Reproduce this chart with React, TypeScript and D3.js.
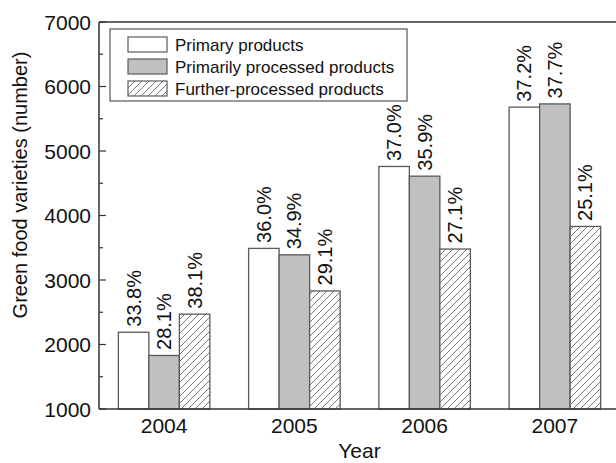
import React, { useEffect, useRef } from 'react';
import * as d3 from 'd3';

const years = ['2004', '2005', '2006', '2007'];
const seriesNames = ['Primary products', 'Primarily processed products', 'Further-processed products'];
const primaryValues = [2190, 3490, 4760, 5680];
const processedValues = [1830, 3390, 4610, 5730];
const furtherValues = [2470, 2830, 3480, 3830];
const primaryLabels = ['33.8%', '36.0%', '37.0%', '37.2%'];
const processedLabels = ['28.1%', '34.9%', '35.9%', '37.7%'];
const furtherLabels = ['38.1%', '29.1%', '27.1%', '25.1%'];
const yTicks = [1000, 2000, 3000, 4000, 5000, 6000, 7000];

const width = 616;
const height = 463;

const App: React.FC = () => {
  const svgRef = useRef<SVGSVGElement>(null);

  useEffect(() => {
    if (!svgRef.current) return;
    const svg = d3.select(svgRef.current);
    svg.selectAll('*').remove();

    const font = 'Liberation Sans, Arial, Helvetica, sans-serif';
    const margin = { top: 22, right: -4, bottom: 54, left: 99 };
    const innerW = width - margin.left - margin.right;
    const innerH = height - margin.top - margin.bottom;

    // hatch pattern for further-processed bars
    const defs = svg.append('defs');
    const pat = defs.append('pattern')
      .attr('id', 'hatch')
      .attr('patternUnits', 'userSpaceOnUse')
      .attr('width', 7)
      .attr('height', 7);
    pat.append('rect').attr('width', 7).attr('height', 7).attr('fill', '#fff');
    pat.append('path')
      .attr('d', 'M-1,1 l2,-2 M0,7 l7,-7 M6,8 l2,-2')
      .attr('stroke', '#6a6a6a')
      .attr('stroke-width', 0.9);

    const g = svg.append('g').attr('transform', `translate(${margin.left},${margin.top})`);

    const x0 = d3.scaleBand<string>().domain(years).range([0, innerW]);
    const x1 = d3.scaleBand<string>().domain(seriesNames).range([0, x0.bandwidth()]).paddingOuter(0.635);
    const y = d3.scaleLinear().domain([1000, 7000]).range([innerH, 0]);

    const series = [
      { name: seriesNames[0], values: primaryValues, labels: primaryLabels, fill: '#ffffff' },
      { name: seriesNames[1], values: processedValues, labels: processedLabels, fill: '#c0c0c0' },
      { name: seriesNames[2], values: furtherValues, labels: furtherLabels, fill: 'url(#hatch)' },
    ];

    // bars
    series.forEach(s => {
      years.forEach((yr, i) => {
        const bx = x0(yr)! + x1(s.name)!;
        g.append('rect')
          .attr('x', bx)
          .attr('y', y(s.values[i]))
          .attr('width', x1.bandwidth())
          .attr('height', innerH - y(s.values[i]))
          .attr('fill', s.fill)
          .attr('stroke', '#5a5a5a')
          .attr('stroke-width', 1.3);
        const lx = bx + x1.bandwidth() / 2;
        const ly = y(s.values[i]) - 5.5;
        g.append('text')
          .attr('transform', `translate(${lx + 7},${ly}) rotate(-90)`)
          .attr('font-family', font)
          .attr('font-size', 20)
          .attr('fill', '#111')
          .text(s.labels[i]);
      });
    });

    // frame
    g.append('line').attr('x1', 0).attr('x2', 0).attr('y1', 0).attr('y2', innerH)
      .attr('stroke', '#333').attr('stroke-width', 1.5);
    g.append('line').attr('x1', 0).attr('x2', innerW).attr('y1', innerH).attr('y2', innerH)
      .attr('stroke', '#333').attr('stroke-width', 1.5);
    g.append('line').attr('x1', 0).attr('x2', innerW).attr('y1', 0).attr('y2', 0)
      .attr('stroke', '#333').attr('stroke-width', 1.5);

    // y ticks (inside)
    d3.range(1500, 7000, 1000).forEach(v => {
      g.append('line').attr('x1', 0).attr('x2', 4).attr('y1', y(v)).attr('y2', y(v))
        .attr('stroke', '#333').attr('stroke-width', 1.2);
    });
    yTicks.forEach(v => {
      g.append('line').attr('x1', 0).attr('x2', 7).attr('y1', y(v)).attr('y2', y(v))
        .attr('stroke', '#333').attr('stroke-width', 1.2);
      g.append('text')
        .attr('x', -8)
        .attr('y', y(v))
        .attr('dy', '0.36em')
        .attr('text-anchor', 'end')
        .attr('font-family', font)
        .attr('font-size', 21)
        .attr('fill', '#111')
        .text(String(v));
    });

    // x labels
    years.forEach(yr => {
      g.append('text')
        .attr('x', x0(yr)! + x0.bandwidth() / 2)
        .attr('y', innerH + 24)
        .attr('text-anchor', 'middle')
        .attr('font-family', font)
        .attr('font-size', 21)
        .attr('fill', '#111')
        .text(yr);
    });

    // axis titles
    g.append('text')
      .attr('x', (innerW) / 2)
      .attr('y', innerH + 49)
      .attr('text-anchor', 'middle')
      .attr('font-family', font)
      .attr('font-size', 21)
      .attr('fill', '#111')
      .text('Year');
    svg.append('text')
      .attr('transform', `translate(27,185) rotate(-90)`)
      .attr('text-anchor', 'middle')
      .attr('font-family', font)
      .attr('font-size', 20)
      .attr('fill', '#111')
      .text('Green food varieties (number)');

    // legend
    const leg = svg.append('g').attr('transform', 'translate(110,29)');
    leg.append('rect').attr('width', 297).attr('height', 72)
      .attr('fill', '#fff').attr('stroke', '#555').attr('stroke-width', 1.2);
    series.forEach((s, i) => {
      leg.append('rect')
        .attr('x', 18).attr('y', 8 + i * 22)
        .attr('width', 39).attr('height', 15)
        .attr('fill', s.fill).attr('stroke', '#5a5a5a').attr('stroke-width', 1.2);
      leg.append('text')
        .attr('x', 65).attr('y', 15.5 + i * 22)
        .attr('dy', '0.36em')
        .attr('font-family', font)
        .attr('font-size', 17)
        .attr('fill', '#111')
        .text(s.name);
    });
  }, []);

  return (
    <svg ref={svgRef} width={width} height={height} style={{ position: 'absolute', left: 0, top: 0, background: '#fff' }} />
  );
};

export default App;
